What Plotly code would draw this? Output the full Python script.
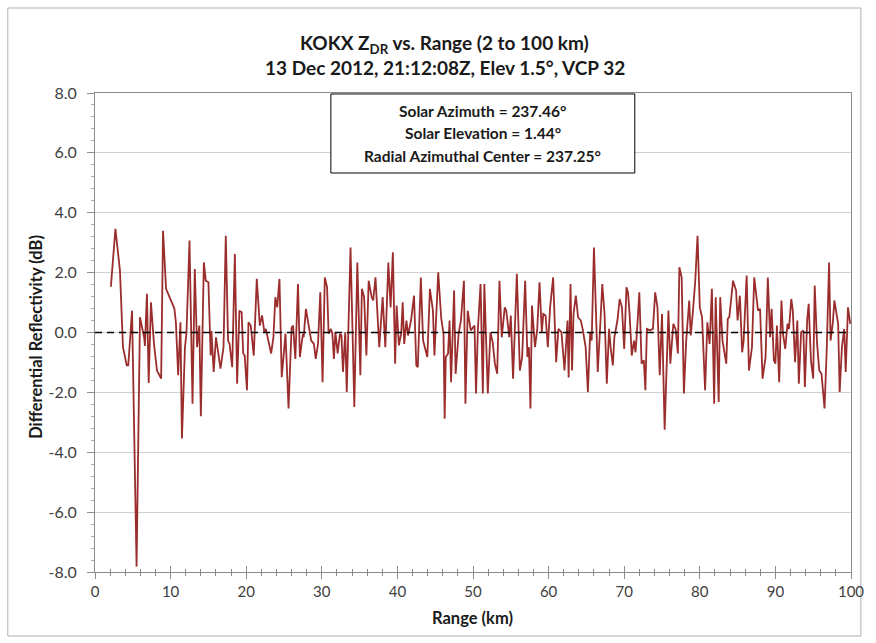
import plotly.graph_objects as go

# Range gates (km) and differential reflectivity (dB) along the radial
range_km = [
    2.1, 2.7, 3.3, 3.7, 4.2, 4.4, 4.9, 5.5, 5.95, 6.5, 6.6, 6.87, 7.1, 7.4, 7.8, 8.2, 8.75,
    9.0, 9.4, 9.75, 10.1, 10.5, 10.7, 11.0, 11.3, 11.5, 11.9, 12.1, 12.5, 12.9,
    13.2, 13.5, 13.8, 14.0, 14.4, 14.65, 15.0, 15.3, 15.4, 15.7, 16.0, 16.3, 16.6, 17.0,
    17.3, 17.6, 17.8, 18.15, 18.5, 18.8, 19.1, 19.4, 19.6, 19.8, 20.1, 20.3, 20.6, 21.0,
    21.4, 21.8, 22.1, 22.4, 22.6, 22.97, 23.3, 23.6, 23.85, 24.1, 24.4, 24.7, 25.2, 25.6,
    26.0, 26.2, 26.5, 26.85, 27.1, 27.5, 27.6, 27.9, 28.2, 28.6, 28.95, 29.2, 29.5, 29.8,
    30.1, 30.4, 30.7, 30.9, 31.2, 31.4, 31.6, 31.8, 32.1, 32.4, 32.6, 32.8, 33.1, 33.3,
    33.8, 34.3, 34.7, 35.1, 35.3, 35.6, 35.9, 36.2, 36.6, 36.8, 37.1, 37.6,
    38.05, 38.4, 38.8, 39.1, 39.4, 39.7, 39.9, 40.2, 40.5, 40.7, 40.9, 41.2, 41.4, 41.8,
    42.2, 42.5, 42.7, 43.1, 43.4, 43.96, 44.3, 44.7, 44.9, 45.4, 45.8, 46.1, 46.25, 46.4,
    46.7, 46.9, 47.1, 47.5, 47.7, 48.1, 48.4, 48.8, 49.0, 49.3, 49.7, 50.2, 50.4,
    50.65, 51.0, 51.3, 51.5, 51.96, 52.3, 52.6, 52.9, 53.2, 53.5, 53.8, 54.2, 54.4, 54.8,
    55.0, 55.3, 55.8, 56.2, 56.5, 56.9, 57.2, 57.4, 57.6, 57.8, 58.2, 58.5, 58.8, 59.1,
    59.3, 59.6, 59.9, 60.2, 60.6, 61.0, 61.3, 61.7, 62.1, 62.5,
    62.65, 62.9, 63.1, 63.3, 63.6, 63.9, 64.26, 64.5, 64.9, 65.2, 65.5, 65.7, 66.0, 66.3,
    66.5, 66.9, 67.1, 67.4, 67.7, 68.0, 68.2, 68.5, 68.7, 69.1, 69.4, 69.7, 70.0, 70.3,
    70.5, 70.7, 71.0, 71.3, 71.5, 71.7, 72.0, 72.3, 72.6, 72.8, 73.0, 73.4, 73.8, 74.1,
    74.4, 74.7, 75.0, 75.35,
    75.85, 76.1, 76.5, 76.8, 77.1, 77.3, 77.6, 77.9, 78.2, 78.6, 78.8, 79.1, 79.4, 79.7,
    80.0, 80.3, 80.7, 81.0, 81.3, 81.6, 81.9, 82.1, 82.5, 82.7, 83.0, 83.5, 83.7, 83.9,
    84.2, 84.4, 84.8, 85.0, 85.3, 85.6, 85.8, 86.2, 86.5, 86.9, 87.2,
    87.7, 87.97, 88.3, 88.7, 89.0, 89.3, 89.5, 89.8, 90.0, 90.2, 90.5, 90.8, 91.0, 91.3,
    91.6, 91.8, 92.1, 92.3, 92.6, 92.9, 93.1, 93.4, 93.7, 93.9, 94.2, 94.4, 94.7, 95.0,
    95.2, 95.5, 95.8, 96.1, 96.5, 96.8, 97.1, 97.3, 97.6, 97.8, 98.3, 98.5, 98.8, 99.1,
    99.3, 99.6, 99.9,
]
zdr_db = [
    1.53, 3.46, 2.07, -0.49, -1.1, -1.1, 0.73, -7.82, 0.51, -0.16, -0.45, 1.29, -1.69, 1.01, -0.37, -1.27, -1.54,
    3.4, 1.46, 1.25, 1.05, 0.8, 0.34, -1.43, 0.34, -3.54, -0.5, 0.0, 3.07, -2.38,
    2.12, -0.49, 0.23, -2.8, 2.34, 1.73, 1.68, -0.77, 0.05, -1.32, -0.16, -0.66, -1.21, -0.49,
    3.23, -0.27, -0.38, -1.16, 2.62, -1.71, 0.73, 0.68, -0.7, -0.77, -1.93, 0.34, 0.23, -0.77,
    1.79, 0.23, 0.57, 0.01, 0.12, -0.32, -0.7, -0.16, 1.18, 0.84, 1.79, -1.49, -0.04, -2.54,
    0.16, 0.23, -0.88, 1.62, -0.82, -0.05, -0.16, 0.79, 0.29, -0.27, -0.38, -0.88, -0.38, 1.34,
    -1.66, 1.84, 1.51, -0.04, 0.12, -0.04, -0.88, 0.01, -0.7, -0.05, -0.1, -1.32, 0.01, -1.99,
    2.84, -2.49, 2.34, -1.43, 1.46, 1.18, -0.77, 1.73, 1.18, 1.07, 1.84, -0.49,
    1.18, -0.49, 2.34, 0.84, 2.68, -1.04, 0.9, -0.43, -0.04, 1.01, -0.38, 0.4, -0.1, 0.4,
    1.23, -1.1, -1.16, 1.84, -0.27, -0.82, 1.46, 0.73, -0.77, 2.01, 0.46, -0.04, -2.88, -0.82,
    -0.7, 0.4, -1.66, 1.4, -1.38, -0.04, 0.4, 1.73, -2.38, 0.73, 0.07, 0.23, -2.04,
    0.12, 1.62, -2.04, 1.62, -2.04, 0.01, -0.32, -1.04, -1.38, 1.73, -0.16, 0.84, 0.73, -0.16,
    0.57, -1.54, 1.96, -1.27, -0.82, 1.73, -0.82, -0.49, -2.54, 0.9, -0.49, 0.12, 1.68, 0.01,
    0.62, 0.57, -0.49, 0.84, 1.84, -0.99, 0.12, 0.01, -1.27, 0.4,
    -1.5, 1.62, -1.27, 0.62, 1.23, 0.51, 0.4, 0.12, -0.49, -1.99, 0.01, -0.27, 2.84, 0.4,
    -1.32, 0.57, 1.62, 0.62, -1.71, 0.12, -0.49, -1.1, -0.16, 0.4, 1.12, 0.84, -0.55, 1.51,
    1.34, 0.68, -0.77, -0.27, -0.66, 0.07, 1.34, -1.04, -0.93, -1.93, 0.12, 0.07, 0.12, 1.34,
    0.84, -1.43, 0.62, -3.25,
    0.73, -1.04, 0.29, 0.12, -0.7, 2.18, 1.84, -2.04, -0.27, 1.07, -0.1, 0.73, 1.73, 3.23,
    0.84, 0.51, -1.93, 0.34, -0.38, 1.46, -2.38, 1.18, -2.32, 1.18, -0.27, -1.04, 0.46, 0.51,
    1.18, 1.73, 1.4, 0.4, 1.23, -0.66, -0.27, 1.9, -1.27, -0.49, 1.84,
    0.73, 0.79, -1.54, -0.82, 1.84, -0.16, 0.79, -0.93, -1.04, 0.23, -1.66, 1.07, -0.04, -0.55,
    0.29, 0.12, 1.12, 0.73, -0.99, 0.4, -1.71, 0.01, 0.07, -1.82, 0.4, 0.96, -0.93, -1.54,
    1.57, -0.32, -1.27, -1.38, -2.54, -0.49, 2.34, -0.27, 0.34, 1.07, 0.29, -1.99, -0.49, 0.12,
    -1.32, 0.84, 0.29,
]

x_ticks = list(range(0, 101, 10))
y_ticks = [-8, -6, -4, -2, 0, 2, 4, 6, 8]

title_lines = [
    "KOKX Z<sub>DR</sub> vs. Range (2 to 100 km)",
    "13 Dec 2012, 21:12:08Z, Elev 1.5°, VCP 32",
]
info_lines = [
    "Solar Azimuth = 237.46°",
    "Solar Elevation = 1.44°",
    "Radial Azimuthal Center = 237.25°",
]

FONT = "Lato, 'Open Sans', sans-serif"
AXIS_GRAY = "#8c8c8c"
GRID_GRAY = "#d0d0d0"
TICK_TEXT = "#404040"

fig = go.Figure()

fig.add_trace(go.Scatter(
    x=range_km, y=zdr_db, mode="lines",
    line=dict(color="#9b2d2d", width=1.8),
    showlegend=False, hoverinfo="x+y",
))
# empty trace bound to the overlay axis that draws the inward half of the x ticks
fig.add_trace(go.Scatter(x=[], y=[], xaxis="x2", yaxis="y",
                         showlegend=False, hoverinfo="skip"))

# zero reference line
fig.add_shape(type="line", xref="x", yref="y", x0=0, x1=100, y0=0, y1=0,
              line=dict(color="black", width=1.5, dash="7px,5px"), layer="above")

# info box
fig.add_shape(type="rect", xref="paper", yref="paper",
              x0=0.312, x1=0.714, y0=0.833, y1=0.998,
              line=dict(color="black", width=1), fillcolor="white", layer="above")
for i, txt in enumerate(info_lines):
    fig.add_annotation(text=f"<b>{txt}</b>", xref="paper", yref="paper",
                       x=0.513, y=0.963 - i * 0.0475, showarrow=False,
                       xanchor="center", yanchor="middle",
                       font=dict(family=FONT, size=15.5, color="#1a1a1a"))

# two-line title
for i, txt in enumerate(title_lines):
    fig.add_annotation(text=f"<b>{txt}</b>", xref="paper", yref="paper",
                       x=(448 - 95) / 763, y=(572 - 44) / 479 - i * 0.050, showarrow=False,
                       xanchor="center", yanchor="middle",
                       font=dict(family=FONT, size=19, color="#1a1a1a"))

# axis titles
fig.add_annotation(text="<b>Differential Reflectivity (dB)</b>", xref="paper", yref="paper",
                   x=(36 - 95) / 763, y=0.49, textangle=-90, showarrow=False,
                   xanchor="center", yanchor="middle",
                   font=dict(family=FONT, size=16.5, color="#1a1a1a"))
fig.add_annotation(text="<b>Range (km)</b>", xref="paper", yref="paper",
                   x=(476 - 95) / 763, y=-0.096, showarrow=False,
                   xanchor="center", yanchor="middle",
                   font=dict(family=FONT, size=16.5, color="#1a1a1a"))

# chart border
fig.add_shape(type="rect", xref="paper", yref="paper",
              x0=(7 - 95) / 763, x1=(868 - 95) / 763,
              y0=(572 - 636) / 479, y1=(572 - 8) / 479,
              line=dict(color="#b0b0b0", width=1), fillcolor="rgba(0,0,0,0)", layer="below")

fig.update_layout(
    width=876, height=643,
    margin=dict(l=95, r=18, t=93, b=71),
    paper_bgcolor="white", plot_bgcolor="white",
    font=dict(family=FONT, size=15, color=TICK_TEXT),
    xaxis=dict(
        range=[0, 100], tickvals=x_ticks, ticktext=[str(v) for v in x_ticks],
        showgrid=False, zeroline=False,
        showline=True, linecolor=AXIS_GRAY, linewidth=1, mirror=True,
        ticks="outside", ticklen=6, tickcolor=AXIS_GRAY,
        minor=dict(ticks="outside", dtick=2, ticklen=3, tickcolor=AXIS_GRAY, showgrid=False),
        tickfont=dict(family=FONT, size=15, color=TICK_TEXT),
    ),
    xaxis2=dict(
        range=[0, 100], overlaying="x", anchor="y", side="bottom",
        tickvals=x_ticks, showticklabels=False, showgrid=False, zeroline=False,
        showline=False, ticks="inside", ticklen=6, tickcolor=AXIS_GRAY,
        minor=dict(ticks="inside", dtick=2, ticklen=3, tickcolor=AXIS_GRAY, showgrid=False),
    ),
    yaxis=dict(
        range=[-8, 8], tickvals=y_ticks, ticktext=[f"{v:.1f}" for v in y_ticks],
        showgrid=True, gridcolor=GRID_GRAY, gridwidth=1, zeroline=False,
        showline=True, linecolor=AXIS_GRAY, linewidth=1, mirror=True,
        ticks="outside", ticklen=7, tickcolor=AXIS_GRAY,
        minor=dict(ticks="outside", dtick=0.4, ticklen=3, tickcolor="#b0b0b0", showgrid=False),
        tickfont=dict(family=FONT, size=16, color=TICK_TEXT),
        ticklabelstandoff=7,
    ),
)

fig.write_html("out.html")
